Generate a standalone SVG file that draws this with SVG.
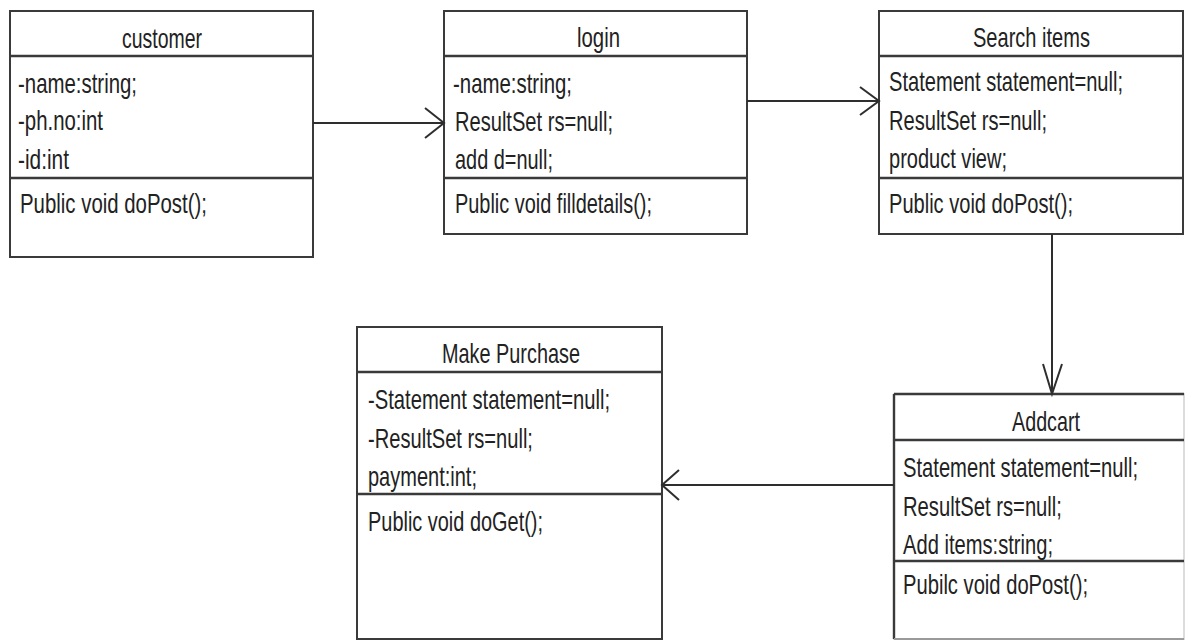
<svg xmlns="http://www.w3.org/2000/svg" width="1190" height="640" viewBox="0 0 1190 640">
<style>
.box{fill:#fff;stroke:#3a3a3a;stroke-width:2}
.sep{stroke:#3a3a3a;stroke-width:2.4}
.t{font-family:"Liberation Sans",Arial,sans-serif;font-size:27px;fill:#222}
.c{stroke:#2e2e2e;stroke-width:2;fill:none}
</style>
<rect width="1190" height="640" fill="#fff"/>
<g id="customer">
<rect class="box" x="10" y="11" width="303" height="246"/>
<line class="sep" x1="10" y1="56" x2="313" y2="56"/>
<line class="sep" x1="10" y1="178" x2="313" y2="178"/>
<text class="t" transform="translate(122,48) scale(0.78,1)" textLength="102.6" lengthAdjust="spacingAndGlyphs">customer</text>
<text class="t" transform="translate(18,93) scale(0.78,1)" textLength="152.6" lengthAdjust="spacingAndGlyphs">-name:string;</text>
<text class="t" transform="translate(18,130) scale(0.78,1)" textLength="109" lengthAdjust="spacingAndGlyphs">-ph.no:int</text>
<text class="t" transform="translate(18,169) scale(0.78,1)" textLength="65.4" lengthAdjust="spacingAndGlyphs">-id:int</text>
<text class="t" transform="translate(20,213) scale(0.78,1)" textLength="239.7" lengthAdjust="spacingAndGlyphs">Public void doPost();</text>
</g>
<g id="login">
<rect class="box" x="444" y="11" width="303" height="223"/>
<line class="sep" x1="444" y1="56" x2="747" y2="56"/>
<line class="sep" x1="444" y1="178" x2="747" y2="178"/>
<text class="t" transform="translate(577,47) scale(0.78,1)" textLength="55.1" lengthAdjust="spacingAndGlyphs">login</text>
<text class="t" transform="translate(453,93) scale(0.78,1)" textLength="152.6" lengthAdjust="spacingAndGlyphs">-name:string;</text>
<text class="t" transform="translate(455,131) scale(0.78,1)" textLength="202.6" lengthAdjust="spacingAndGlyphs">ResultSet rs=null;</text>
<text class="t" transform="translate(455,169) scale(0.78,1)" textLength="125.6" lengthAdjust="spacingAndGlyphs">add d=null;</text>
<text class="t" transform="translate(455,213) scale(0.78,1)" textLength="252.6" lengthAdjust="spacingAndGlyphs">Public void filldetails();</text>
</g>
<g id="search-items">
<rect class="box" x="879" y="11" width="304" height="223"/>
<line class="sep" x1="879" y1="56" x2="1183" y2="56"/>
<line class="sep" x1="879" y1="178" x2="1183" y2="178"/>
<text class="t" transform="translate(973,47) scale(0.78,1)" textLength="150" lengthAdjust="spacingAndGlyphs">Search items</text>
<text class="t" transform="translate(889,91) scale(0.78,1)" textLength="300" lengthAdjust="spacingAndGlyphs">Statement statement=null;</text>
<text class="t" transform="translate(889,130) scale(0.78,1)" textLength="202.6" lengthAdjust="spacingAndGlyphs">ResultSet rs=null;</text>
<text class="t" transform="translate(889,168) scale(0.78,1)" textLength="151.3" lengthAdjust="spacingAndGlyphs">product view;</text>
<text class="t" transform="translate(889,213) scale(0.78,1)" textLength="235.9" lengthAdjust="spacingAndGlyphs">Public void doPost();</text>
</g>
<g id="make-purchase">
<rect class="box" x="357" y="327" width="305" height="312"/>
<line class="sep" x1="357" y1="372" x2="662" y2="372"/>
<line class="sep" x1="357" y1="494" x2="662" y2="494"/>
<text class="t" transform="translate(442,363) scale(0.78,1)" textLength="176.9" lengthAdjust="spacingAndGlyphs">Make Purchase</text>
<text class="t" transform="translate(368,409) scale(0.78,1)" textLength="310.3" lengthAdjust="spacingAndGlyphs">-Statement statement=null;</text>
<text class="t" transform="translate(368,448) scale(0.78,1)" textLength="211.5" lengthAdjust="spacingAndGlyphs">-ResultSet rs=null;</text>
<text class="t" transform="translate(368,486) scale(0.78,1)" textLength="139.7" lengthAdjust="spacingAndGlyphs">payment:int;</text>
<text class="t" transform="translate(368,531) scale(0.78,1)" textLength="224.4" lengthAdjust="spacingAndGlyphs">Public void doGet();</text>
</g>
<g id="addcart">
<rect x="894" y="394" width="290" height="245" fill="#fff" stroke="#dcdcdc" stroke-width="2"/>
<line class="sep" x1="894" y1="394" x2="1184" y2="394"/>
<line class="sep" x1="894" y1="394" x2="894" y2="639"/>
<line class="sep" x1="894" y1="440" x2="1184" y2="440"/>
<line class="sep" x1="894" y1="561" x2="1184" y2="561"/>
<line x1="894" y1="639" x2="1184" y2="639" stroke="#9a9a9a" stroke-width="2"/>
<text class="t" transform="translate(1012,431) scale(0.78,1)" textLength="87.2" lengthAdjust="spacingAndGlyphs">Addcart</text>
<text class="t" transform="translate(903,477) scale(0.78,1)" textLength="301.3" lengthAdjust="spacingAndGlyphs">Statement statement=null;</text>
<text class="t" transform="translate(903,516) scale(0.78,1)" textLength="203.8" lengthAdjust="spacingAndGlyphs">ResultSet rs=null;</text>
<text class="t" transform="translate(903,554) scale(0.78,1)" textLength="192.3" lengthAdjust="spacingAndGlyphs">Add items:string;</text>
<text class="t" transform="translate(903,594) scale(0.78,1)" textLength="237.2" lengthAdjust="spacingAndGlyphs">Pubilc void doPost();</text>
</g>
<g id="connectors">
<line class="c" x1="313" y1="123" x2="444" y2="123"/>
<polyline class="c" points="425,108 444,123 425,138"/>
<line class="c" x1="747" y1="101" x2="879" y2="101"/>
<polyline class="c" points="860,87 879,101 860,115"/>
<line class="c" x1="1052" y1="234" x2="1052" y2="394"/>
<polyline class="c" points="1043,364 1052,394 1062,364"/>
<line class="c" x1="894" y1="485" x2="662" y2="485"/>
<polyline class="c" points="679,470 662,485 679,500"/>
</g>
</svg>
